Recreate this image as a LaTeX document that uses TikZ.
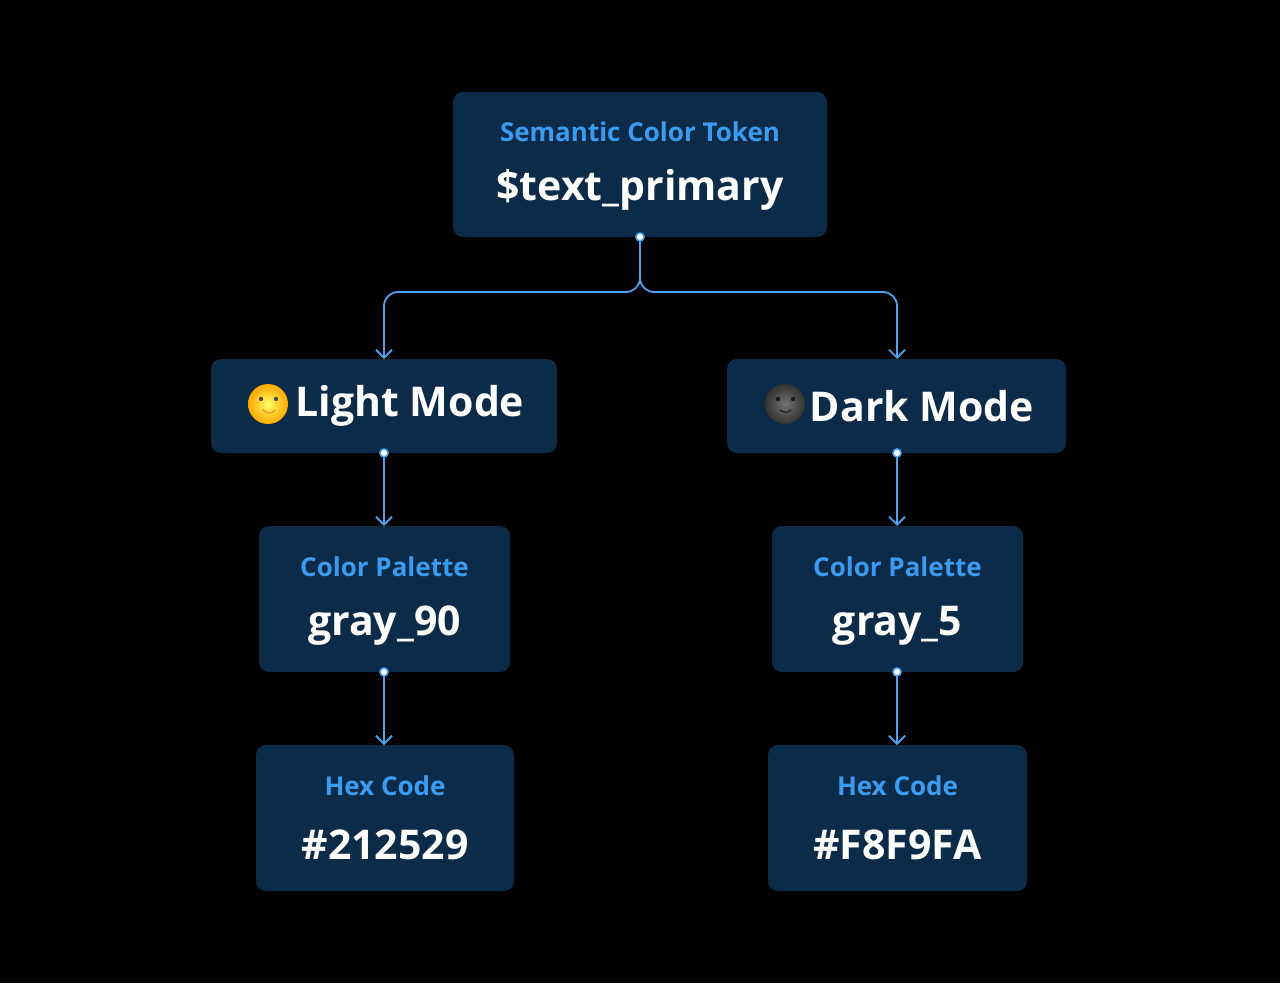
\documentclass[tikz,border=0pt]{standalone}
\usepackage{fontspec}
\setmainfont{Open Sans}
\usetikzlibrary{arrows.meta}
\definecolor{boxc}{HTML}{0C2B49}
\definecolor{bluet}{HTML}{3A9BF0}
\definecolor{linec}{HTML}{4AA2F0}
\begin{document}
\begin{tikzpicture}[x=1pt,y=-1pt,
  box/.style={fill=boxc,rounded corners=10pt,draw=none},
  sub/.style={text=bluet,font=\fontsize{26}{30}\selectfont\bfseries,anchor=center},
  main/.style={text=white,font=\fontsize{41}{48}\selectfont\bfseries,anchor=center},
  conn/.style={draw=linec,line width=1.8pt,rounded corners=14pt,-{Straight Barb[length=8pt,width=16pt,line width=1.8pt]}},
  dot/.style={circle,fill=white,draw=linec,line width=1.6pt,inner sep=0pt,minimum size=8pt}]
\fill[black] (0,0) rectangle (1280,983);
% boxes
\path[box] (453,92) rectangle (827,237); \coordinate (topS) at (640,237);
\path[box] (211,359) rectangle (557,453);
\path[box] (727,359) rectangle (1066,453);
\path[box] (259,526) rectangle (510,672);
\path[box] (772,526) rectangle (1023,672);
\path[box] (256,745) rectangle (514,891);
\path[box] (768,745) rectangle (1027,891);
% anchor nodes
\coordinate (lightN) at (384,359); \coordinate (lightS) at (384,453);
\coordinate (darkN) at (897,359); \coordinate (darkS) at (897,453);
\coordinate (palLN) at (384,526); \coordinate (palLS) at (384,672);
\coordinate (palRN) at (897,526); \coordinate (palRS) at (897,672);
\coordinate (hexLN) at (384,745); \coordinate (hexRN) at (897,745);
\coordinate (split) at (640,292);
% texts
\node[sub] (t1) at (640,132) {Semantic Color Token};
\node[main] (t2) at (640,190) {\$text\_primary};
\node[main] (l1) at (410,406) {Light Mode};
\node[main] (d1) at (922,406) {Dark Mode};
\node[sub] (p1) at (384.5,567) {Color Palette};
\node[main] (p2) at (384.5,626) {gray\_90};
\node[sub] (p3) at (897.5,567) {Color Palette};
\node[main] (p4) at (897.5,626) {gray\_5};
\node[sub] (h1) at (385,786) {Hex Code};
\node[main] (h2) at (385,845) {\#212529};
\node[sub] (h3) at (897.5,786) {Hex Code};
\node[main] (h4) at (897.5,845) {\#F8F9FA};
% moon emojis
\shade[inner color=yellow!60!white,outer color=orange!70!yellow] (268,404) circle (20);
\fill[black!70] (261,399) circle (2.2) (276,399) circle (2.2);
\draw[orange!60!brown,line width=1pt] (263,410) .. controls (268,414) and (272,414) .. (275,410);
\shade[inner color=black!55,outer color=black!80] (785,404) circle (20);
\fill[black!90] (778,399) circle (2.2) (793,399) circle (2.2);
\draw[black!90,line width=1pt] (780,410) .. controls (784,413) and (788,413) .. (791,410);
% connectors
\draw[conn] (topS) -- (split) -| (lightN);
\draw[conn] (topS) -- (split) -| (darkN);
\draw[conn] (lightS) -- (palLN);
\draw[conn] (darkS) -- (palRN);
\draw[conn] (palLS) -- (hexLN);
\draw[conn] (palRS) -- (hexRN);
\foreach \c in {topS,lightS,darkS,palLS,palRS} \node[dot] at (\c) {};
\end{tikzpicture}
\end{document}
